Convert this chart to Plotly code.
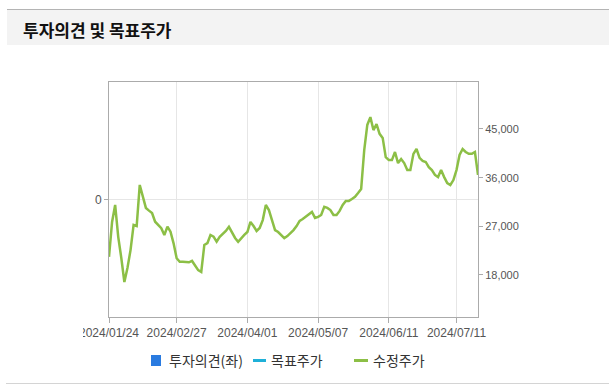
import pandas as pd
import plotly.graph_objects as go

# KRX market holidays inside the window
HOLIDAYS = ["2024-02-09", "2024-02-12", "2024-03-01", "2024-04-10",
            "2024-05-01", "2024-05-06", "2024-05-15", "2024-06-06"]

# Trading days (category axis)
dates = [d.strftime("%Y/%m/%d")
         for d in pd.bdate_range("2024-01-24", "2024-07-22")
         if d.strftime("%Y-%m-%d") not in HOLIDAYS]

# Adjusted close (수정주가), KRW
adj_price = [
    21350, 27800, 30950, 25050, 21150, 16700, 19300, 22600, 27250, 27050,
    34650, 32250, 30400, 29900, 29450, 27850, 27250, 26650, 25400, 26950,
    26000, 23850, 21100, 20450, 20450, 20350, 20350, 20600, 19850, 18900,
    18550, 23550, 23900, 25400, 25100, 24150, 25050, 25600, 26150, 26900,
    25750, 24850, 24150, 24850, 25400, 25950, 27800, 27050, 26150, 26700,
    28150, 30950, 30000, 28150, 26300, 25950, 25400, 24800, 25200, 25750,
    26300, 27050, 28000, 28350, 28750, 29100, 29650, 28550, 28750, 29100,
    30600, 30400, 30000, 29100, 29100, 29850, 30950, 31700, 31700, 32050,
    32450, 33150, 33900, 41100, 45750, 47200, 44800, 45900, 44100, 43350,
    39800, 39250, 39250, 40750, 38700, 39450, 38700, 37400, 37400, 40400,
    41300, 39650, 39100, 38900, 37950, 37400, 36500, 36100, 37400, 36100,
    35000, 34650, 35550, 37400, 40200, 41300, 40750, 40400, 40400, 40750,
    36500,
]

# Investment opinion / target price: no entries in this period
opinion = []
target_price = []

tick_dates = ["2024/01/24", "2024/02/27", "2024/04/01",
              "2024/05/07", "2024/06/11", "2024/07/11"]
price_ticks = [18000, 27000, 36000, 45000]
opinion_ticks = [0]

title_text = "투자의견 및 목표주가"
legend_names = ["투자의견(좌)", "목표주가", "수정주가"]

W, H = 609, 392
L, R, T, B = 109, 478, 82, 317   # plot box in pixels

GREEN = "#8cbf46"
CYAN = "#1fb0d8"
BLUE = "#2a7be0"
FRAME = "#ababab"
GRID = "#e6e6e6"
TICK_FONT = dict(family="Liberation Sans, Arial, sans-serif", size=12, color="#555555")
KR_FONT = "Noto Sans CJK KR"


def px(x):
    return (x - L) / (R - L)


def py(y):
    return (B - y) / (B - T)


fig = go.Figure()
fig.add_trace(go.Bar(x=opinion, y=opinion, name=legend_names[0],
                     marker_color=BLUE, showlegend=False))
fig.add_trace(go.Scatter(x=target_price, y=target_price, yaxis="y2",
                         name=legend_names[1], mode="lines",
                         line=dict(color=CYAN, width=2.5), showlegend=False))
fig.add_trace(go.Scatter(x=dates, y=adj_price, yaxis="y2", name=legend_names[2],
                         mode="lines", line=dict(color=GREEN, width=2.5),
                         showlegend=False, hoverinfo="x+y"))

shapes = [
    # header band
    dict(type="rect", xref="paper", yref="paper", layer="below",
         x0=px(7), x1=px(W), y0=py(45), y1=py(10),
         fillcolor="#f3f3f3", line=dict(width=0)),
    dict(type="line", xref="paper", yref="paper",
         x0=px(7), x1=px(W), y0=py(9.5), y1=py(9.5),
         line=dict(color="#b4b4b4", width=1)),
    # bottom rule
    dict(type="line", xref="paper", yref="paper",
         x0=px(6), x1=px(W), y0=py(383.5), y1=py(383.5),
         line=dict(color="#d4d4d4", width=1)),
    # left clip of the category labels
    dict(type="rect", xref="paper", yref="paper", layer="above",
         x0=px(0), x1=px(83), y0=py(345), y1=py(321),
         fillcolor="white", line=dict(width=0)),
    # legend symbols
    dict(type="rect", xref="paper", yref="paper",
         x0=px(151), x1=px(161), y0=py(366), y1=py(355),
         fillcolor=BLUE, line=dict(width=0)),
    dict(type="line", xref="paper", yref="paper",
         x0=px(253), x1=px(266), y0=py(360.5), y1=py(360.5),
         line=dict(color=CYAN, width=3)),
    dict(type="line", xref="paper", yref="paper",
         x0=px(354), x1=px(368), y0=py(360.5), y1=py(360.5),
         line=dict(color=GREEN, width=3)),
]

annotations = [
    dict(text=f"<b>{title_text}</b>", xref="paper", yref="paper",
         x=px(21), y=py(29.5), xanchor="left", yanchor="middle", showarrow=False,
         font=dict(family=KR_FONT, size=17, color="#111111")),
]
for name, x0 in zip(legend_names, [167, 269, 371]):
    annotations.append(dict(text=name, xref="paper", yref="paper",
                            x=px(x0), y=py(360), xanchor="left", yanchor="middle",
                            showarrow=False,
                            font=dict(family=KR_FONT, size=14, color="#333333")))

fig.update_layout(
    width=W, height=H,
    margin=dict(l=L, r=W - R, t=T, b=H - B, pad=0),
    paper_bgcolor="white", plot_bgcolor="white",
    showlegend=False,
    xaxis=dict(type="category", categoryorder="array", categoryarray=dates,
               range=[0, len(dates) - 1],
               tickmode="array", tickvals=tick_dates, ticktext=tick_dates,
               showgrid=True, gridcolor=GRID, gridwidth=1,
               ticks="outside", ticklen=5, tickcolor=FRAME,
               showline=True, linecolor=FRAME, linewidth=1, mirror=True,
               tickfont=TICK_FONT, tickangle=0, zeroline=False),
    yaxis=dict(range=[-1, 1], tickmode="array", tickvals=opinion_ticks,
               showgrid=True, gridcolor=GRID, zeroline=False,
               ticks="outside", ticklen=4, tickcolor=FRAME,
               showline=True, linecolor=FRAME, linewidth=1, mirror=True,
               tickfont=TICK_FONT),
    yaxis2=dict(overlaying="y", side="right", range=[10230, 53690],
                tickmode="array", tickvals=price_ticks, tickformat=",",
                showgrid=False, zeroline=False,
                ticks="outside", ticklen=4, tickcolor=FRAME,
                showline=True, linecolor=FRAME, linewidth=1,
                tickfont=dict(TICK_FONT, size=11)),
    shapes=shapes,
    annotations=annotations,
)

fig.write_html("out.html")
